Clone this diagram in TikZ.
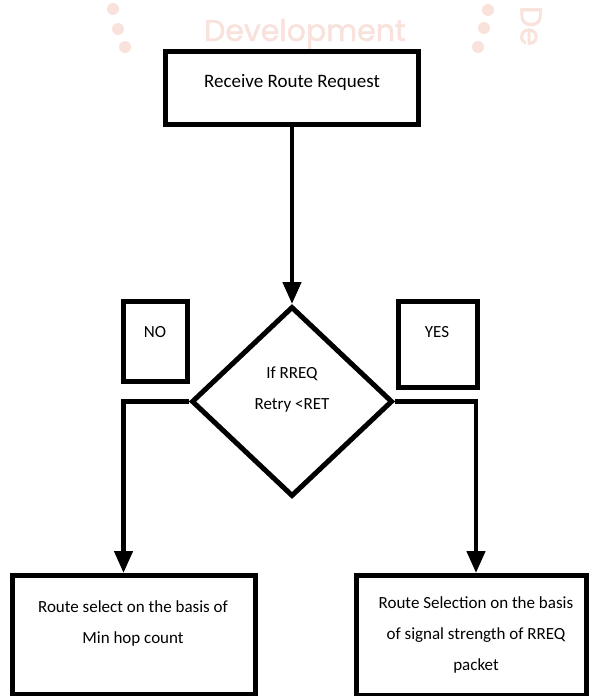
\documentclass[tikz,border=0pt]{standalone}
\usepackage{fontspec}
\setmainfont{Carlito}
\newfontfamily\wmfont[FakeBold=1.5]{Poppins}
\usetikzlibrary{arrows.meta,shapes.geometric}
\definecolor{wmpink}{RGB}{249,226,220}
\begin{document}
\begin{tikzpicture}[x=1pt,y=-1pt,
  box/.style={draw=black,line width=5pt,rectangle,inner sep=0pt},
  txt/.style={align=center,inner sep=0pt,font=\fontsize{17}{31}\selectfont},
  conn/.style={line width=4.5pt,-{Triangle[width=18pt,length=22pt]}},
  wmark/.style={text=wmpink,inner sep=0pt}]
\useasboundingbox (0,0) rectangle (591,696);
\fill[white] (0,0) rectangle (591,696);
% faint watermark
\node[wmark,font=\wmfont\fontsize{30}{30}\selectfont,anchor=base] (wmtext) at (305,41) {Development};
\node[wmark,font=\wmfont\fontsize{30}{30}\selectfont,rotate=-90] (wmde) at (531,26) {De};
\fill[wmpink] (113,9) circle (6pt) (118,29) circle (6pt) (125,47) circle (6pt);
\fill[wmpink] (488,10) circle (6pt) (484,28) circle (6pt) (478,47) circle (6pt);
% boxes
\node[box,minimum width=253pt,minimum height=73pt] (start) at (292,88) {};
\node[txt,font=\fontsize{19}{19}\selectfont] (starttext) at (292,82) {Receive Route Request};
\node[draw=black,line width=5pt,diamond,minimum width=201pt,minimum height=190pt,inner sep=0pt] (dec) at (292,401.5) {};
\node[txt] (dectext) at (292,390) {If RREQ\\Retry <RET};
\node[box,minimum width=64pt,minimum height=80pt] (no) at (155.5,341.5) {};
\node[txt] (notext) at (155,332) {NO};
\node[box,minimum width=79pt,minimum height=86pt] (yes) at (438,344.5) {};
\node[txt] (yestext) at (437,332) {YES};
\node[box,minimum width=243pt,minimum height=118.5pt] (left) at (134,634.75) {};
\node[txt] (lefttext) at (133,623) {Route select on the basis of\\Min hop count};
\node[box,minimum width=230pt,minimum height=120pt] (right) at (471.5,635.5) {};
\node[txt] (righttext) at (476,635) {Route Selection on the basis\\of signal strength of RREQ\\packet};
% connectors
\draw[conn] (start.south) -- (dec.north);
\draw[conn] (dec.west) -| ([xshift=-10.5pt]left.north);
\draw[conn] (dec.east) -| ([xshift=4.5pt]right.north);
\end{tikzpicture}
\end{document}
